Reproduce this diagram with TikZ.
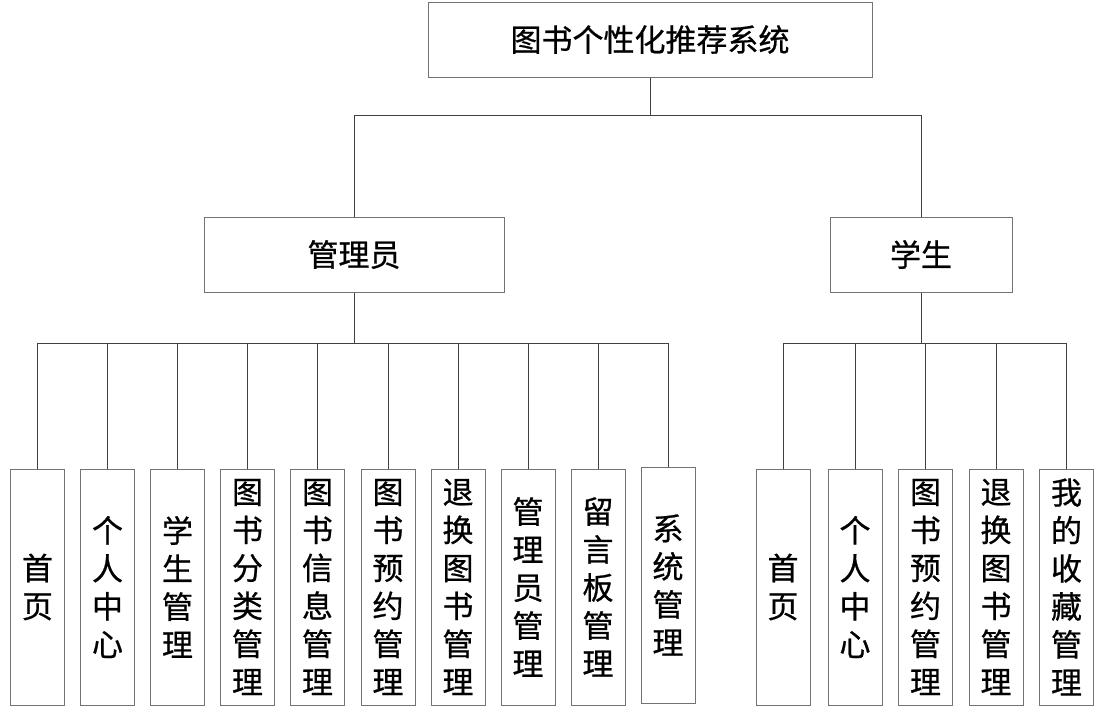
\documentclass[tikz,border=0pt]{standalone}
\usepackage{fontspec}
\setmainfont{Noto Sans CJK SC}[FakeBold=0.7]
\begin{document}
\begin{tikzpicture}[x=1pt,y=-1pt,
  box/.style={draw=black!55,line width=1pt,inner sep=0pt,align=center,font=\fontsize{31pt}{38pt}\selectfont},
  top/.style={box,minimum height=75pt},
  leaf/.style={box,minimum width=54pt,minimum height=236pt},
  conn/.style={draw=black!75,line width=1pt}]
\useasboundingbox (0,0) rectangle (1096,720);
\node[top,minimum width=444pt] (root) at (650,39.5) {图书个性化推荐系统};
\node[top,minimum width=300pt] (admin) at (354,254.5) {管理员};
\node[top,minimum width=182pt] (stu) at (921,254.5) {学生};
% admin leaves
\node[leaf] (a1) at (37.5,587) {首\\页};
\node[leaf] (a2) at (107.5,587) {个\\人\\中\\心};
\node[leaf] (a3) at (177.5,587) {学\\生\\管\\理};
\node[leaf] (a4) at (247.5,587) {图\\书\\分\\类\\管\\理};
\node[leaf] (a5) at (317.5,587) {图\\书\\信\\息\\管\\理};
\node[leaf] (a6) at (388,587) {图\\书\\预\\约\\管\\理};
\node[leaf] (a7) at (458,587) {退\\换\\图\\书\\管\\理};
\node[leaf] (a8) at (528,587) {管\\理\\员\\管\\理};
\node[leaf] (a9) at (598,587) {留\\言\\板\\管\\理};
\node[leaf] (a10) at (668,585) {系\\统\\管\\理};
% student leaves
\node[leaf] (s1) at (783,587) {首\\页};
\node[leaf] (s2) at (855,587) {个\\人\\中\\心};
\node[leaf] (s3) at (925.5,587) {图\\书\\预\\约\\管\\理};
\node[leaf] (s4) at (996,587) {退\\换\\图\\书\\管\\理};
\node[leaf] (s5) at (1066.5,587) {我\\的\\收\\藏\\管\\理};
% level 1 connectors
\draw[conn] (root.south) -- (root.south |- 0,115);
\draw[conn] (admin.north) -- (admin.north |- 0,115) -- (stu.north |- 0,115) -- (stu.north);
% admin connectors
\draw[conn] (admin.south) -- (admin.south |- 0,343);
\draw[conn] (a1.north |- 0,343) -- (a10.north |- 0,343);
\foreach \n in {a1,a2,a3,a4,a5,a6,a7,a8,a9,a10}
  \draw[conn] (\n.north) -- (\n.north |- 0,343);
% student connectors
\draw[conn] (stu.south) -- (stu.south |- 0,343);
\draw[conn] (s1.north |- 0,343) -- (s5.north |- 0,343);
\foreach \n in {s1,s2,s3,s4,s5}
  \draw[conn] (\n.north) -- (\n.north |- 0,343);
\end{tikzpicture}
\end{document}
